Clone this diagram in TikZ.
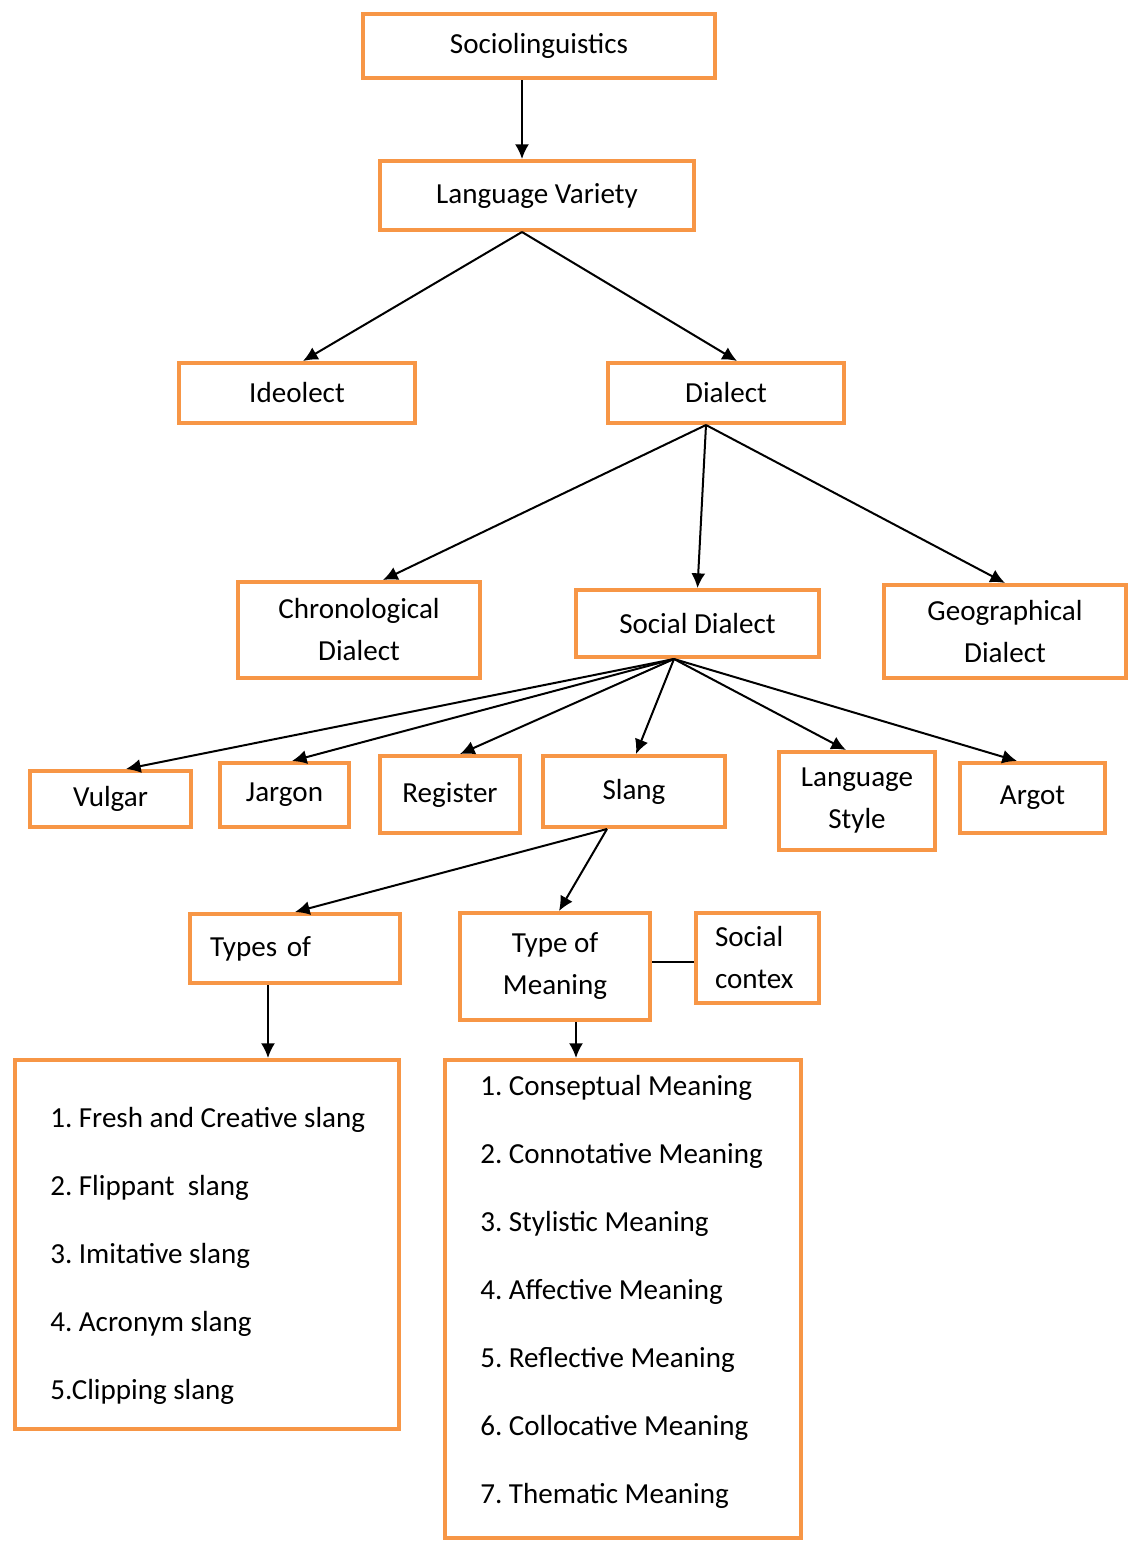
\documentclass[tikz,border=0pt]{standalone}
\usepackage{fontspec}
\setmainfont{Carlito}
\usepackage{tikz}
\usetikzlibrary{arrows.meta}
\definecolor{boxorange}{HTML}{F79646}
\newdimen\px
\px=0.75pt
\frenchspacing

\begin{document}
\begin{tikzpicture}[x=0.75pt,y=-0.75pt]
\tikzstyle{box}=[draw=boxorange,line width=3pt,fill=white,inner sep=0pt,align=center,font=\fontsize{21.8}{31.5}\selectfont]
\tikzstyle{link}=[line width=1.5pt,-{Latex[length=11pt,width=10.5pt]}]
\tikzstyle{listtext}=[align=left,inner sep=0pt,font=\fontsize{21.8}{51}\selectfont]
\useasboundingbox (0,0) rectangle (1138,1543);
\foreach \name/\point/\w/\h/\txt in {
	soc/{539,46}/352/64/Sociolinguistics,
	lv/{537,195.5}/314/69/Language Variety,
	ideo/{297,393}/236/60/Ideolect,
	dial/{726,393}/236/60/Dialect,
	chron/{359,630}/242/96/{Chronological\\Dialect},
	sdial/{697.5,623.5}/243/67/Social Dialect,
	geo/{1005,631.5}/242/93/{Geographical\\Dialect},
	vulgar/{110.5,799}/161/56/Vulgar,
	jargon/{284.5,795}/129/64/Jargon,
	register/{450,794.5}/140/77/Register,
	slang/{634,791.5}/182/71/Slang,
	lstyle/{857,801}/156/98/{Language\\Style},
	argot/{1032.5,798}/145/70/Argot,
	tom/{555,966.5}/190/107/{Type of\\Meaning},
	slist/{207,1244.5}/384/369/{},
	mlist/{623,1299}/356/478/{}}
	\node[box,minimum width=\w\px,minimum height=\h\px] (\name) at (\point) {\txt};
\node[box,minimum width=210\px,minimum height=69\px,text width=170\px,align=left] (typesof) at (295,948.5) {Types of};
\node[box,minimum width=123\px,minimum height=90\px,text width=85\px,align=left] (scon) at (757.5,958) {Social\\contex};
% list texts
\node[listtext,anchor=west] (slisttxt) at (50,1256) {1. Fresh and Creative slang\\2. Flippant\ \ slang\\3. Imitative slang\\4. Acronym slang\\5.Clipping slang};
\node[listtext,anchor=west] (mlisttxt) at (480,1292) {1. Conseptual Meaning\\2. Connotative Meaning\\3. Stylistic Meaning\\4. Affective Meaning\\5. Reflective Meaning\\6. Collocative Meaning\\7. Thematic Meaning};
% arrows
\draw[link] ([xshift=-17\px]soc.south) -- ([xshift=-15\px]lv.north);
\draw[link] ([xshift=-15\px]lv.south) -- ([xshift=6\px]ideo.north);
\draw[link] ([xshift=-15\px]lv.south) -- ([xshift=11\px]dial.north);
\draw[link] ([xshift=-20\px]dial.south) -- ([xshift=24\px]chron.north);
\draw[link] ([xshift=-20\px]dial.south) -- (sdial.north);
\draw[link] ([xshift=-20\px]dial.south) -- (geo.north);
\draw[link] ([xshift=-23.5\px]sdial.south) -- ([xshift=15.5\px]vulgar.north);
\draw[link] ([xshift=-23.5\px]sdial.south) -- ([xshift=7.5\px]jargon.north);
\draw[link] ([xshift=-23.5\px]sdial.south) -- ([xshift=10\px]register.north);
\draw[link] ([xshift=-23.5\px]sdial.south) -- ([xshift=2\px]slang.north);
\draw[link] ([xshift=-23.5\px]sdial.south) -- ([xshift=-11\px]lstyle.north);
\draw[link] ([xshift=-23.5\px]sdial.south) -- ([xshift=-15.5\px]argot.north);
\draw[link] ([xshift=-27\px]slang.south) -- (typesof.north);
\draw[link] ([xshift=-27\px]slang.south) -- ([xshift=4\px]tom.north);
\draw[link] ([xshift=-27\px]typesof.south) -- ([xshift=61\px]slist.north);
\draw[link] ([xshift=21\px]tom.south) -- ([xshift=-47\px]mlist.north);
\draw[line width=1pt] ([yshift=4.5\px]tom.east) -- ([yshift=4.5\px]tom.east -| scon.west);
\end{tikzpicture}
\end{document}
